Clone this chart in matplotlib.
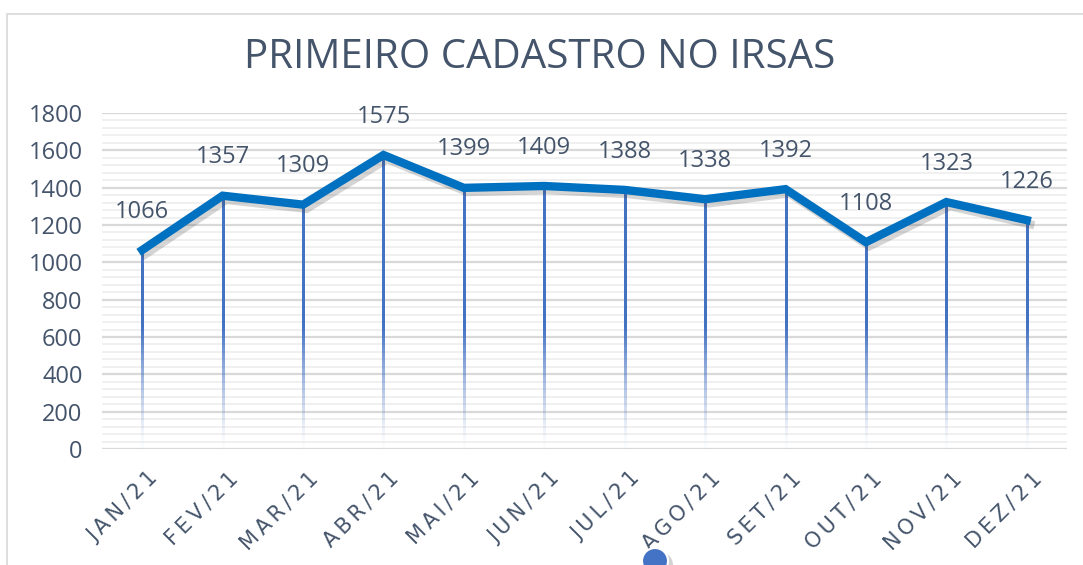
import matplotlib

matplotlib.use("Agg")

import matplotlib.pyplot as plt
import matplotlib.patheffects as pe
import matplotlib.transforms as mtransforms
import numpy as np
from matplotlib.patches import Ellipse, Rectangle

months = ["JAN/21", "FEV/21", "MAR/21", "ABR/21", "MAI/21", "JUN/21",
          "JUL/21", "AGO/21", "SET/21", "OUT/21", "NOV/21", "DEZ/21"]
cadastros = [1066, 1357, 1309, 1575, 1399, 1409, 1388, 1338, 1392, 1108, 1323, 1226]

text_color = "#44546A"
line_color = "#0070C0"
drop_color = "#4472C4"

plt.rcParams["font.family"] = ["Open Sans", "DejaVu Sans"]
plt.rcParams["font.weight"] = "medium"

W, H = 1083, 565
fig = plt.figure(figsize=(W / 100, H / 100), dpi=100)
ax = fig.add_axes([102 / W, 1 - 449 / H, 965 / W, 336 / H])

x = np.arange(len(months))

# grid: major every 200, minor every 40
for y in np.arange(0, 1801, 40):
    major = y % 200 == 0
    ax.axhline(y, color="#D9D9D9" if major else "#EDEDED", lw=1.6 if major else 1.2, zorder=0)

# drop lines fading towards the bottom
half_w = 1.0 / 80.4
rgb = matplotlib.colors.to_rgb(drop_color)
for xi, val in zip(x, cadastros):
    ys = np.linspace(val, 0, 200)
    alpha = np.clip(ys / 650, 0.05, 1.0) ** 1.3
    img = np.zeros((len(ys), 1, 4))
    img[:, 0, :3] = rgb
    img[:, 0, 3] = alpha
    ax.imshow(img, extent=[xi - half_w, xi + half_w, 0, val], aspect="auto",
              interpolation="bilinear", zorder=1)
ax.set_xlim(-0.5, len(months) - 0.5)
ax.set_ylim(0, 1800)

ax.plot(x, cadastros, color=line_color, lw=6, solid_joinstyle="miter", zorder=3,
        path_effects=[pe.SimpleLineShadow(offset=(2.5, -3), alpha=0.22, shadow_color="#404040"),
                      pe.Normal()])

for xi, val in zip(x, cadastros):
    ax.annotate(str(val), (xi, val), xytext=(0, 19), textcoords="offset points",
                ha="center", va="bottom", fontsize=17, color=text_color)

ax.set_yticks(np.arange(0, 1801, 200))
ax.set_xticks(x)
ax.set_xticklabels(["\u2009".join(m) for m in months], rotation=45, ha="right", va="top",
                   rotation_mode="anchor", fontsize=15, color=text_color, family="DejaVu Sans",
                   fontweight="normal")
ax.tick_params(axis="y", labelsize=17, labelcolor=text_color, length=0, pad=14)
ax.tick_params(axis="x", length=0, pad=14)
shift = mtransforms.ScaledTranslation(5 / 100, 0, fig.dpi_scale_trans)
for lbl in ax.get_xticklabels():
    lbl.set_transform(lbl.get_transform() + shift)
for s in ax.spines.values():
    s.set_visible(False)
ax.set_facecolor("none")

fig.text(540 / W, 1 - 58 / H, "PRIMEIRO CADASTRO NO IRSAS", ha="center", va="center",
         fontsize=29, color=text_color)

# chart frame
fig.patches.append(Rectangle((7 / W, -0.1), 1.2, 1 - 14 / H + 0.1, transform=fig.transFigure,
                             fill=False, edgecolor="#D9D9D9", lw=1.2, zorder=0))

# stray marker at the bottom of the screenshot
fig.patches.append(Ellipse((660 / W, 1 - 565 / H), 26 / W, 26 / H, transform=fig.transFigure,
                           facecolor="#808080", edgecolor="none", alpha=0.35, zorder=4))
fig.patches.append(Ellipse((655 / W, 1 - 561 / H), 26 / W, 26 / H, transform=fig.transFigure,
                           facecolor="#4472C4", edgecolor="white", lw=1.5, zorder=5))

fig.savefig("out.png", dpi=100)
